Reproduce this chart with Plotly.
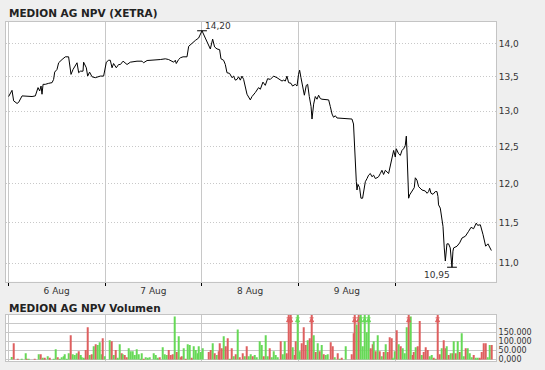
import plotly.graph_objects as go

TITLE = "MEDION AG NPV (XETRA)"
VOL_TITLE = "MEDION AG NPV Volumen"
day_labels = ["6 Aug", "7 Aug", "8 Aug", "9 Aug"]
day_label_pos = [0.5, 1.5, 2.5, 3.5]
day_starts = [0, 1, 2, 3, 4]

# trading time in days since 6 Aug open
t_price = [
    0.003, 0.038, 0.055, 0.09, 0.106, 0.142, 0.245, 0.279, 0.307, 0.324, 0.338, 0.348, 0.359, 0.382,
    0.417, 0.452, 0.468, 0.479, 0.503, 0.52, 0.555, 0.589, 0.623, 0.648, 0.669, 0.71, 0.727, 0.744,
    0.772, 0.778, 0.806, 0.82, 0.84, 0.865, 0.899, 0.951, 0.985,
    1.013, 1.037, 1.054, 1.072, 1.088, 1.116, 1.14, 1.158, 1.186, 1.227, 1.261, 1.33, 1.382, 1.398,
    1.434, 1.571, 1.623, 1.657, 1.692, 1.709, 1.726, 1.736, 1.76, 1.778, 1.806, 1.847, 1.864, 1.881,
    1.909, 1.933, 1.967, 1.984,
    2.002, 2.036, 2.07, 2.088, 2.112, 2.132, 2.157, 2.184, 2.198, 2.225, 2.243, 2.26, 2.287, 2.312,
    2.329, 2.346, 2.364, 2.38, 2.398, 2.415, 2.432, 2.45, 2.467, 2.501, 2.519, 2.553, 2.587, 2.605,
    2.632, 2.656, 2.68, 2.708, 2.742, 2.777, 2.811, 2.829, 2.845, 2.863, 2.88, 2.897, 2.922, 2.938,
    2.966, 2.984,
    3.0, 3.011, 3.025, 3.046, 3.06, 3.08, 3.094, 3.111, 3.129, 3.139, 3.156, 3.173, 3.191, 3.207,
    3.225, 3.242, 3.311, 3.328, 3.346, 3.362, 3.38, 3.397, 3.431, 3.5, 3.552, 3.568, 3.576, 3.586,
    3.597, 3.604, 3.614, 3.631, 3.645, 3.662, 3.68, 3.69, 3.708, 3.724, 3.742, 3.759, 3.776, 3.793,
    3.811, 3.827, 3.845, 3.862, 3.879, 3.897, 3.931, 3.948, 3.966, 3.983,
    4.0, 4.01, 4.034, 4.052, 4.069, 4.086, 4.103, 4.114, 4.121, 4.138, 4.148, 4.173, 4.196, 4.207,
    4.224, 4.241, 4.276, 4.31, 4.328, 4.344, 4.355, 4.369, 4.39, 4.413, 4.431, 4.441, 4.447, 4.465,
    4.483, 4.493, 4.506, 4.517, 4.534, 4.551, 4.568, 4.579, 4.586, 4.596, 4.603, 4.638, 4.665, 4.69,
    4.724, 4.758, 4.783, 4.809, 4.837, 4.851, 4.879, 4.907, 4.917, 4.934, 4.958, 4.982, 4.993,
]
price = [
    13.21, 13.30, 13.147, 13.11, 13.124, 13.219, 13.21, 13.219, 13.34, 13.291, 13.363, 13.243, 13.388, 13.388,
    13.403, 13.413, 13.461, 13.569, 13.609, 13.709, 13.758, 13.799, 13.799, 13.535, 13.609, 13.709, 13.56, 13.583,
    13.583, 13.718, 13.634, 13.51, 13.569, 13.50, 13.486, 13.51, 13.51,
    13.718, 13.747, 13.747, 13.634, 13.698, 13.634, 13.683, 13.683, 13.733, 13.683, 13.718, 13.733, 13.733, 13.709,
    13.743, 13.758, 13.769, 13.758, 13.733, 13.718, 13.747, 13.698, 13.758, 13.784, 13.799, 13.799, 13.959, 13.985,
    14.02, 14.05, 14.087, 14.14,
    14.20, 14.087, 13.959, 13.919, 14.07, 13.95, 13.919, 13.908, 13.769, 13.747, 13.683, 13.56, 13.55, 13.486,
    13.51, 13.45, 13.461, 13.50, 13.45, 13.51, 13.461, 13.363, 13.243, 13.161, 13.21, 13.268, 13.34, 13.316,
    13.421, 13.373, 13.471, 13.461, 13.51, 13.486, 13.461, 13.436, 13.45, 13.436, 13.51, 13.413, 13.403, 13.363,
    13.388, 13.363,
    13.535, 13.598, 13.486, 13.316, 13.229, 13.373, 13.388, 13.21, 13.067, 12.887, 13.10, 13.21, 13.171, 13.229,
    13.18, 13.171, 13.161, 13.067, 12.958, 12.912, 12.934, 12.902, 12.898, 12.887, 12.887, 12.817, 12.518, 12.204,
    12.029, 11.92, 11.994, 11.951, 11.813, 11.813, 11.942, 12.029, 12.072, 12.116, 12.138, 12.095, 12.116, 12.072,
    12.081, 12.095, 12.138, 12.181, 12.125, 12.181, 12.138, 12.248, 12.382, 12.45,
    12.36, 12.473, 12.405, 12.382, 12.45, 12.473, 12.518, 12.647, 12.428, 11.813, 11.855, 11.899, 11.951, 12.081,
    12.05, 11.964, 11.92, 11.907, 11.877, 11.899, 11.942, 11.877, 11.864, 11.899, 11.899, 11.835, 11.727, 11.685,
    11.557, 11.453, 11.185, 11.025, 11.235, 11.235, 11.185, 11.017, 10.95, 11.145, 11.185, 11.206, 11.247, 11.308,
    11.329, 11.391, 11.441, 11.423, 11.494, 11.466, 11.473, 11.349, 11.287, 11.206, 11.235, 11.165, 11.153,
]

t_vol = [
    0.034, 0.055, 0.096, 0.137, 0.179, 0.193, 0.210, 0.276, 0.313, 0.334, 0.355, 0.375, 0.406, 0.427,
    0.468, 0.489, 0.510, 0.530, 0.551, 0.572, 0.586, 0.603, 0.623, 0.644, 0.665, 0.685, 0.706, 0.727,
    0.747, 0.762, 0.778, 0.799, 0.820, 0.840, 0.861, 0.882, 0.902, 0.923, 0.944, 0.964, 0.975, 0.999,
    1.047, 1.068, 1.088, 1.109, 1.130, 1.150, 1.171, 1.181, 1.202, 1.223, 1.243, 1.264, 1.285, 1.305,
    1.326, 1.347, 1.367, 1.378, 1.398, 1.419, 1.440, 1.460, 1.502, 1.522, 1.543, 1.568, 1.595, 1.616,
    1.636, 1.657, 1.682, 1.702, 1.719, 1.740, 1.760, 1.781, 1.791, 1.812, 1.833, 1.853, 1.874, 1.895,
    1.915, 1.936, 1.957, 1.967, 1.988,
    2.008, 2.070, 2.091, 2.112, 2.132, 2.153, 2.174, 2.184, 2.205, 2.225, 2.246, 2.267, 2.287, 2.308,
    2.329, 2.349, 2.370, 2.391, 2.422, 2.442, 2.463, 2.484, 2.504, 2.525, 2.546, 2.566, 2.597, 2.618,
    2.639, 2.659, 2.680, 2.701, 2.721, 2.742, 2.763, 2.783, 2.814, 2.835, 2.856, 2.876, 2.897, 2.918,
    2.938, 2.959, 2.970, 2.990,
    3.011, 3.032, 3.052, 3.073, 3.094, 3.114, 3.135, 3.156, 3.177, 3.197, 3.218, 3.238, 3.259, 3.280,
    3.300, 3.331, 3.352, 3.373, 3.404, 3.424, 3.445, 3.486, 3.548, 3.569, 3.579, 3.600, 3.621, 3.641,
    3.662, 3.683, 3.703, 3.724, 3.745, 3.765, 3.776, 3.796, 3.817, 3.838, 3.858, 3.879, 3.900, 3.920,
    3.941, 3.962, 3.972, 3.993,
    4.013, 4.034, 4.055, 4.075, 4.096, 4.117, 4.138, 4.158, 4.179, 4.189, 4.210, 4.231, 4.251, 4.272,
    4.293, 4.313, 4.334, 4.355, 4.375, 4.396, 4.417, 4.437, 4.458, 4.479, 4.499, 4.520, 4.530, 4.551,
    4.572, 4.592, 4.603, 4.623, 4.644, 4.665, 4.685, 4.706, 4.727, 4.747, 4.768, 4.789, 4.809, 4.830,
    4.851, 4.872, 4.892, 4.913, 4.934, 4.954, 4.975, 4.995,
]
vol = [
    13000, 91000, 3000, 3000, 35000, 3000, 3000, 3000, 29000, 29000, 8000, 8000, 18000, 8000,
    3000, 57000, 12000, 3000, 12000, 18000, 29000, 3000, 35000, 135000, 29000, 24000, 35000, 46000,
    24000, 12000, 8000, 52000, 180000, 24000, 29000, 74000, 85000, 80000, 96000, 29000, 118000, 18000,
    107000, 102000, 24000, 52000, 8000, 85000, 35000, 29000, 24000, 12000, 63000, 46000, 46000, 24000,
    57000, 29000, 3000, 35000, 3000, 12000, 8000, 12000, 35000, 24000, 8000, 12000, 68000, 29000,
    24000, 52000, 24000, 29000, 240000, 41000, 130000, 12000, 18000, 63000, 3000, 85000, 80000, 8000,
    74000, 52000, 35000, 74000, 41000,
    63000, 41000, 52000, 91000, 35000, 24000, 46000, 91000, 63000, 130000, 74000, 118000, 3000, 63000,
    18000, 29000, 168000, 12000, 35000, 18000, 74000, 18000, 29000, 18000, 24000, 12000, 102000, 80000,
    18000, 135000, 18000, 63000, 12000, 46000, 24000, 12000, 102000, 29000, 102000, 35000, 290000, 290000,
    68000, 24000, 102000, 290000,
    46000, 91000, 180000, 80000, 107000, 118000, 290000, 135000, 41000, 91000, 46000, 80000, 29000, 24000,
    29000, 96000, 74000, 12000, 35000, 3000, 8000, 74000, 29000, 146000, 290000, 196000, 290000, 290000,
    74000, 290000, 152000, 290000, 63000, 85000, 102000, 46000, 135000, 46000, 18000, 41000, 85000, 41000,
    124000, 118000, 8000, 46000,
    163000, 85000, 74000, 63000, 35000, 180000, 290000, 240000, 24000, 41000, 68000, 74000, 215000, 24000,
    41000, 68000, 52000, 18000, 24000, 8000, 3000, 290000, 29000, 63000, 107000, 63000, 74000, 24000,
    35000, 35000, 102000, 35000, 102000, 41000, 146000, 18000, 63000, 63000, 35000, 12000, 24000, 8000,
    8000, 8000, 41000, 91000, 91000, 12000, 80000, 80000,
]
vol_up = [
    1, 0, 0, 1, 1, 0, 1, 0, 1, 0, 1, 0, 1, 0,
    1, 1, 0, 1, 1, 1, 1, 1, 1, 0, 1, 1, 1, 0,
    1, 1, 1, 0, 0, 1, 0, 1, 0, 1, 1, 1, 0, 1,
    1, 0, 1, 0, 1, 1, 0, 1, 0, 0, 1, 1, 1, 1,
    1, 1, 1, 1, 0, 1, 1, 1, 1, 1, 1, 0, 1, 1,
    1, 0, 0, 0, 1, 0, 1, 0, 0, 1, 0, 1, 1, 0,
    1, 1, 1, 1, 1,
    1, 0, 0, 1, 0, 1, 0, 0, 0, 1, 0, 0, 1, 0,
    1, 0, 1, 0, 0, 1, 0, 1, 1, 0, 1, 1, 1, 1,
    0, 1, 1, 0, 1, 1, 1, 1, 0, 1, 1, 0, 0, 0,
    1, 0, 0, 1,
    1, 0, 0, 0, 1, 0, 0, 1, 0, 1, 0, 1, 0, 1,
    1, 0, 0, 1, 0, 1, 0, 1, 0, 0, 0, 1, 0, 1,
    1, 1, 1, 1, 0, 0, 1, 0, 1, 0, 1, 0, 1, 0,
    0, 0, 1, 1,
    0, 1, 0, 1, 1, 1, 0, 1, 0, 0, 1, 0, 0, 1,
    0, 0, 0, 1, 1, 0, 1, 0, 0, 1, 0, 0, 1, 0,
    1, 0, 1, 0, 1, 0, 1, 1, 0, 1, 1, 1, 0, 1,
    1, 0, 0, 0, 0, 1, 1, 0,
]

price_ticks = [11.0, 11.5, 12.0, 12.5, 13.0, 13.5, 14.0]
vol_ticks = [0, 50000, 100000, 150000, 200000]
vol_ticktext = ["0,000", "50.000", "100.000", "150.000", ""]
VOL_MAX = 250000

GREEN = "#66d957"
RED = "#de5f5f"
GRID = "#c8c8c8"
FRAME = "#c4c4c4"
TXT = "#333333"
FONT = "DejaVu Sans"

fig = go.Figure()
fig.add_trace(go.Scatter(x=t_price, y=price, mode="lines",
                         line=dict(color="black", width=1), xaxis="x", yaxis="y"))

imax = price.index(max(price))
imin = price.index(min(price))
fig.add_trace(go.Scatter(x=[t_price[imax], t_price[imin]], y=[price[imax], price[imin]],
                         mode="markers", cliponaxis=False,
                         marker=dict(symbol="line-ew", size=7, line=dict(color="black", width=1)),
                         xaxis="x", yaxis="y"))

colors = [GREEN if u else RED for u in vol_up]
fig.add_trace(go.Bar(x=t_vol, y=vol, width=0.011, marker=dict(color=colors, line=dict(width=0)),
                     xaxis="x2", yaxis="y2"))
clip = [i for i, v in enumerate(vol) if v > VOL_MAX]
fig.add_trace(go.Scatter(x=[t_vol[i] for i in clip], y=[VOL_MAX * 0.93] * len(clip),
                         mode="markers", cliponaxis=False,
                         marker=dict(symbol="arrow-bar-up", size=4,
                                     color=[colors[i] for i in clip],
                                     line=dict(color=[colors[i] for i in clip], width=1)),
                         xaxis="x2", yaxis="y2"))

fmt = lambda v: f"{v:.2f}".replace(".", ",")

x_dom = [0.0105, 0.9101]
x_rng = [-0.027, 5.041]

fig.update_layout(
    width=545, height=370,
    margin=dict(l=0, r=0, t=0, b=0),
    paper_bgcolor="#efefef", plot_bgcolor="white",
    showlegend=False, separators=",.",
    font=dict(family=FONT, size=9, color=TXT),
    xaxis=dict(domain=x_dom, range=x_rng, anchor="y",
               tickvals=day_label_pos, ticktext=day_labels, ticks="", showgrid=False,
               zeroline=False, showline=True, linecolor=FRAME, mirror=True,
               tickfont=dict(size=9, color=TXT),
               minor=dict(tickvals=day_starts, showgrid=True, gridcolor=GRID, gridwidth=1,
                          ticks="outside", ticklen=3, tickcolor="black", tickwidth=1)),
    yaxis=dict(domain=[0.2324, 0.9405], type="log", range=[1.0325, 1.15655], anchor="x",
               side="right", tickvals=price_ticks, tickformat=".1f", ticks="",
               showgrid=True, gridcolor=GRID, griddash="1px,2px", zeroline=False,
               showline=True, linecolor=FRAME, mirror=True,
               tickfont=dict(size=9, color=TXT)),
    xaxis2=dict(domain=x_dom, range=x_rng, anchor="y2",
                tickvals=day_starts, showticklabels=False, ticks="",
                showgrid=True, gridcolor=GRID, zeroline=False,
                showline=True, linecolor=FRAME, mirror=True),
    yaxis2=dict(domain=[0.0162, 0.1424], range=[-9400, VOL_MAX], anchor="x2",
                side="right", tickvals=vol_ticks, ticktext=vol_ticktext, ticks="",
                showgrid=True, gridcolor=GRID, zeroline=False,
                showline=True, linecolor=FRAME, mirror=True,
                tickfont=dict(size=8, color=TXT)),
    annotations=[
        dict(text=f"<b>{TITLE}</b>", xref="paper", yref="paper", x=0.0128, y=0.965,
             xanchor="left", yanchor="middle", showarrow=False,
             font=dict(family=FONT, size=10.5, color="#222222")),
        dict(text=f"<b>{VOL_TITLE}</b>", xref="paper", yref="paper", x=0.0128, y=0.162,
             xanchor="left", yanchor="middle", showarrow=False,
             font=dict(family=FONT, size=10.5, color="#222222")),
        dict(text=fmt(price[imax]), xref="x", yref="y", x=t_price[imax], y=1.15219,
             xanchor="left", yanchor="bottom", showarrow=False, xshift=1, yshift=-2,
             font=dict(size=9, color=TXT)),
        dict(text=fmt(price[imin]), xref="x", yref="y", x=t_price[imin], y=1.03945,
             xanchor="right", yanchor="top", showarrow=False, xshift=0, yshift=-1,
             font=dict(size=9, color=TXT)),
    ],
)

fig.write_html("out.html")
